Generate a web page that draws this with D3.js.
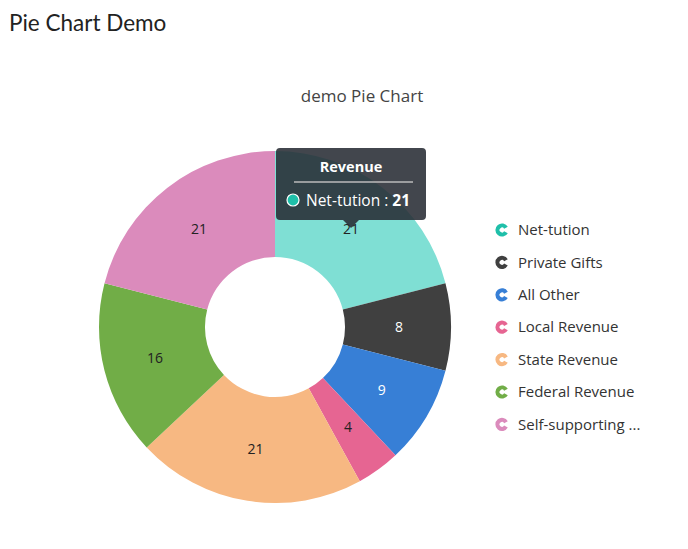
<!DOCTYPE html>
<html>
<head>
<meta charset="utf-8">
<script src="https://cdn.jsdelivr.net/npm/d3@7"></script>
<style>
    body { margin: 0; background: #fff; }
    h2 { font-family: Lato, sans-serif; font-weight: 400; font-size: 22.5px; color: #222; margin: 0; position: absolute; left: 9px; top: 9px; }
    .chart { position: absolute; left: 0; top: 0; }
</style>
</head>
<body>
<h2>Pie Chart Demo</h2>
<div class="chart"></div>
<script>
(function () {
    'use strict';

    const categories = ['Net-tution', 'Private Gifts', 'All Other', 'Local Revenue', 'State Revenue', 'Federal Revenue', 'Self-supporting Operations'];
    const values = [21, 8, 9, 4, 21, 16, 21];
    const colors = ['#1fbfa9', '#404040', '#377fd6', '#e66592', '#f7b882', '#71ad47', '#db8bbc'];
    const sliceColors = ['#7fdfd4', '#404040', '#377fd6', '#e66592', '#f7b882', '#71ad47', '#db8bbc'];
    const labelColors = ['#222', '#fff', '#fff', '#222', '#222', '#222', '#222'];
    const seriesName = 'Revenue';
    const hovered = 0;

    const font = '"Open Sans", "Noto Sans", sans-serif';
    const svg = d3.select('.chart').append('svg').attr('width', 688).attr('height', 549);

    svg.append('text').text('demo Pie Chart')
        .attr('x', 362).attr('y', 102)
        .attr('text-anchor', 'middle')
        .style('font-family', font).style('font-size', '17px').style('fill', '#444');

    const cx = 275, cy = 327;
    const outer = 176, inner = 70;
    const pie = d3.pie().sort(null).value(function (d) { return d; });
    const arcs = pie(values);
    const arc = d3.arc().innerRadius(inner).outerRadius(outer);
    const labelArc = d3.arc().innerRadius(124).outerRadius(124);

    const g = svg.append('g').attr('transform', 'translate(' + cx + ',' + cy + ')');

    g.selectAll('path').data(arcs).enter().append('path')
        .attr('d', arc)
        .style('fill', function (d, i) { return sliceColors[i]; });

    g.selectAll('text').data(arcs).enter().append('text')
        .attr('transform', function (d) { return 'translate(' + labelArc.centroid(d) + ')'; })
        .attr('text-anchor', 'middle').attr('dy', '0.35em')
        .text(function (d) { return d.value; })
        .style('font-family', font).style('font-size', '14px')
        .style('fill', function (d, i) { return labelColors[i]; });

    // legend
    const legend = svg.append('g').attr('transform', 'translate(502, 230)');
    const iconArc = d3.arc().innerRadius(2.4).outerRadius(6.6)
        .startAngle(Math.PI / 2 + 0.5).endAngle(Math.PI / 2 + 2 * Math.PI - 0.5);
    const rows = legend.selectAll('g').data(categories).enter().append('g')
        .attr('transform', function (d, i) { return 'translate(0,' + (i * 32.4) + ')'; });
    rows.append('path').attr('d', iconArc)
        .style('fill', function (d, i) { return colors[i]; });
    rows.append('text').attr('x', 16).attr('dy', '0.35em')
        .text(function (d) { return d.length > 16 ? d.slice(0, 15) + ' ...' : d; })
        .style('font-family', font).style('font-size', '15px').style('fill', '#333');

    // tooltip for hovered slice
    const tipW = 150, tipH = 72;
    const tipPos = labelArc.centroid(arcs[hovered]);
    const tx = cx + tipPos[0], ty = cy + tipPos[1] - 1;
    const tip = svg.append('g').attr('transform', 'translate(' + (tx - tipW / 2) + ',' + (ty - tipH - 8) + ')');
    tip.append('path')
        .attr('d', 'M4,0H' + (tipW - 4) + 'Q' + tipW + ',0 ' + tipW + ',4V' + (tipH - 4) + 'Q' + tipW + ',' + tipH + ' ' + (tipW - 4) + ',' + tipH +
            'H' + (tipW / 2 + 8) + 'L' + (tipW / 2) + ',' + (tipH + 8) + 'L' + (tipW / 2 - 8) + ',' + tipH +
            'H4Q0,' + tipH + ' 0,' + (tipH - 4) + 'V4Q0,0 4,0Z')
        .style('fill', 'rgba(40,44,52,0.88)');
    tip.append('text').text(seriesName)
        .attr('x', tipW / 2).attr('y', 24).attr('text-anchor', 'middle')
        .style('font-family', font).style('font-weight', 700).style('font-size', '14.5px').style('fill', '#fff');
    tip.append('line').attr('x1', 18).attr('x2', tipW - 13).attr('y1', 34).attr('y2', 34)
        .style('stroke', '#bbb').style('stroke-width', 1.5);
    tip.append('circle').attr('cx', 17).attr('cy', 52).attr('r', 6)
        .style('fill', colors[hovered]).style('stroke', '#fff').style('stroke-width', 1.2);
    const row = tip.append('text').attr('x', 30).attr('y', 57.5)
        .style('font-family', font).style('font-size', '15.5px').style('fill', '#fff');
    row.append('tspan').text(categories[hovered] + ' : ');
    row.append('tspan').text(values[hovered]).style('font-weight', 700);
}());
</script>
</body>
</html>
